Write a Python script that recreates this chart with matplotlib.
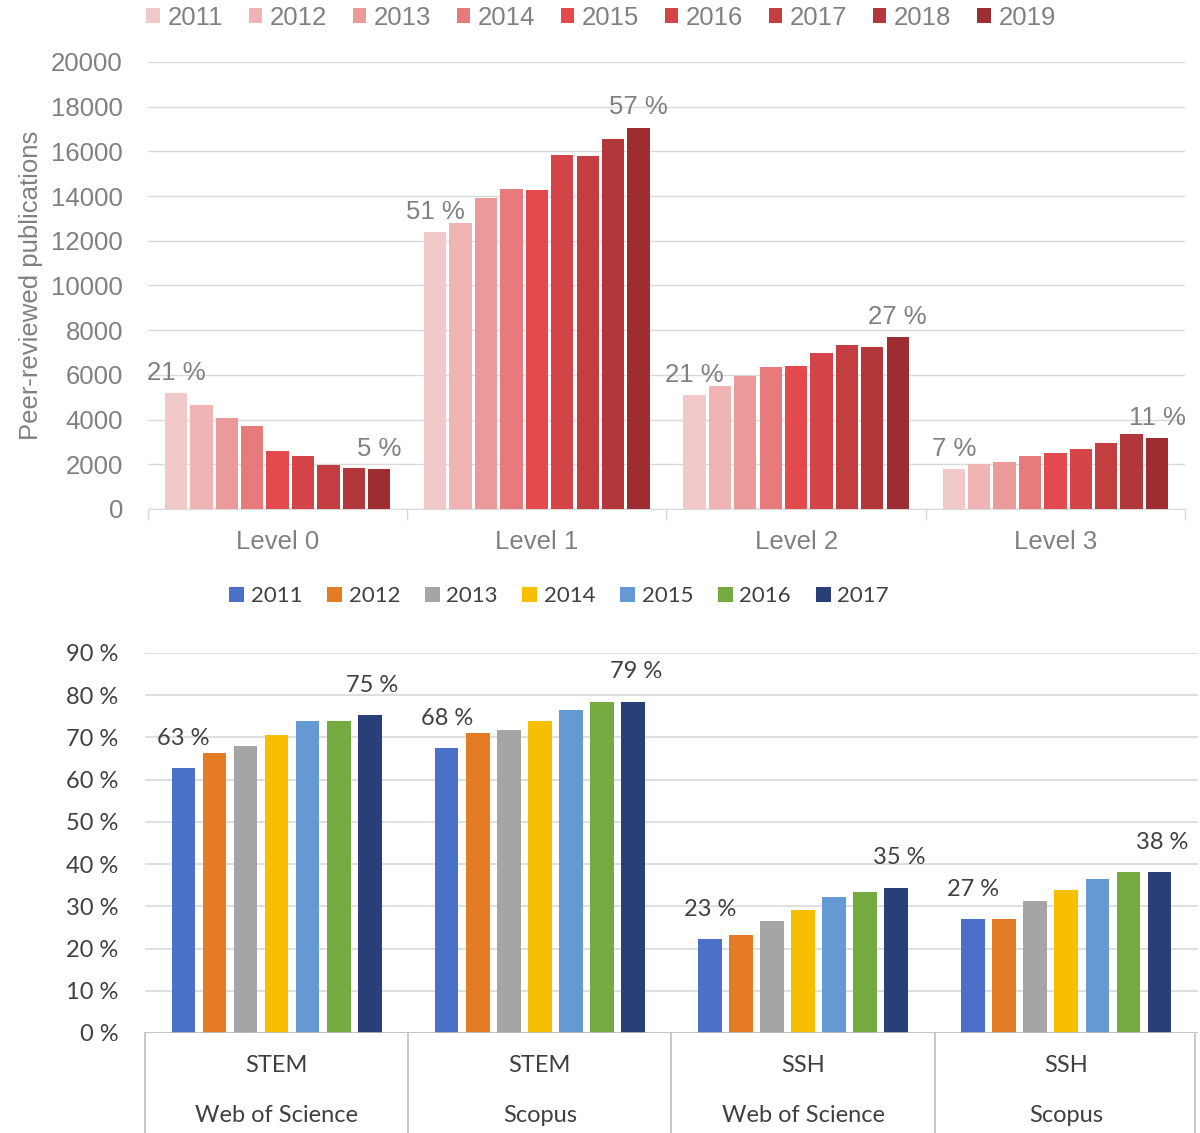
import matplotlib
matplotlib.use("Agg")
import matplotlib.pyplot as plt
from matplotlib.patches import Patch
import numpy as np

# ---------------- data: top chart ----------------
levels = ["Level 0", "Level 1", "Level 2", "Level 3"]
years_top = ["2011", "2012", "2013", "2014", "2015", "2016", "2017", "2018", "2019"]
level0 = [5170, 4660, 4060, 3700, 2610, 2380, 1980, 1840, 1770]
level1 = [12370, 12810, 13920, 14320, 14290, 15850, 15810, 16550, 17060]
level2 = [5090, 5490, 5940, 6340, 6400, 7000, 7330, 7240, 7690]
level3 = [1770, 1990, 2090, 2360, 2500, 2680, 2930, 3340, 3160]
top_first_labels = ["21 %", "51 %", "21 %", "7 %"]
top_last_labels = ["5 %", "57 %", "27 %", "11 %"]
top_yticks = [0, 2000, 4000, 6000, 8000, 10000, 12000, 14000, 16000, 18000, 20000]

# ---------------- data: bottom chart ----------------
groups_field = ["STEM", "STEM", "SSH", "SSH"]
groups_db = ["Web of Science", "Scopus", "Web of Science", "Scopus"]
years_bot = ["2011", "2012", "2013", "2014", "2015", "2016", "2017"]
stem_wos = [62.7, 66.3, 68.0, 70.6, 73.8, 73.8, 75.3]
stem_scopus = [67.4, 71.1, 71.7, 73.8, 76.4, 78.5, 78.5]
ssh_wos = [22.2, 23.3, 26.5, 29.1, 32.3, 33.4, 34.4]
ssh_scopus = [27.0, 27.0, 31.2, 33.9, 36.5, 38.1, 38.1]
bot_first_labels = ["63 %", "68 %", "23 %", "27 %"]
bot_last_labels = ["75 %", "79 %", "35 %", "38 %"]
bot_yticks = [0, 10, 20, 30, 40, 50, 60, 70, 80, 90]

top_colors = ["#F2C9C9", "#EFB4B3", "#EB9A9A", "#E77A7A", "#E24A4D",
              "#D4454A", "#C33E41", "#B2373A", "#9E2D31"]
bot_colors = ["#4A70C8", "#E47B25", "#A5A5A5", "#F8BE00", "#6599D4", "#74AA3F", "#283F78"]

TOPFONT = "Liberation Sans"
BOTFONT = "Lato"
grey = "#808080"
dark = "#404040"
gridc = "#D9D9D9"
TFS = 18.5
BFS = 17

fig = plt.figure(figsize=(12, 11.33), dpi=100)

# ================= top chart =================
ax1 = fig.add_axes([0.1233, 0.5508, 0.8642, 0.3945])
top_vals = np.array([level0, level1, level2, level3])  # (levels, years)
n = len(years_top)
step = 0.098
width = 0.086
x = np.arange(len(levels))
for j in range(n):
    ax1.bar(x + (j - (n - 1) / 2) * step, top_vals[:, j], width=width,
            color=top_colors[j], label=years_top[j], zorder=3)
for i in range(len(levels)):
    xf = i + (0 - (n - 1) / 2) * step
    xl = i + (n - 1 - (n - 1) / 2) * step
    ax1.annotate(top_first_labels[i], (xf, top_vals[i, 0]), xytext=(0, 6),
                 textcoords="offset points", ha="center", va="bottom",
                 fontsize=TFS, color=grey, family=TOPFONT)
    ax1.annotate(top_last_labels[i], (xl, top_vals[i, -1]), xytext=(0, 6),
                 textcoords="offset points", ha="center", va="bottom",
                 fontsize=TFS, color=grey, family=TOPFONT)
ax1.set_xlim(-0.5, 3.5)
ax1.set_ylim(0, 20000)
ax1.set_yticks(top_yticks)
ax1.set_yticklabels([str(v) for v in top_yticks], fontsize=TFS, color=grey, family=TOPFONT)
ax1.set_xticks(x)
ax1.set_xticklabels(levels, fontsize=TFS, color=grey, family=TOPFONT)
ax1.set_xticks([-0.5, 0.5, 1.5, 2.5, 3.5], minor=True)
ax1.tick_params(axis="x", which="major", length=0, pad=15)
ax1.tick_params(axis="x", which="minor", length=8, color=gridc, width=1)
ax1.tick_params(axis="y", length=0, pad=18)
ax1.grid(axis="y", color=gridc, linewidth=1, zorder=0)
for s in ["top", "right", "left"]:
    ax1.spines[s].set_visible(False)
ax1.spines["bottom"].set_color(gridc)
ax1.set_ylabel("Peer-reviewed publications", fontsize=TFS, color=grey, family=TOPFONT, labelpad=6)

h1 = [Patch(facecolor=c) for c in top_colors]
fig.legend(h1, years_top, loc="center", bbox_to_anchor=(601 / 1200, 1 - 18 / 1133), ncol=9,
           frameon=False, handlelength=0.52, handleheight=0.52, handletextpad=0.3,
           columnspacing=1.0, prop={"family": TOPFONT, "size": TFS}, labelcolor=grey,
           borderpad=0, borderaxespad=0)

# ================= bottom chart =================
ax2 = fig.add_axes([0.1208, 0.0883, 0.8775, 0.3354])
bot_vals = np.array([stem_wos, stem_scopus, ssh_wos, ssh_scopus])
m = len(years_bot)
step2 = 0.118
width2 = 0.09
for j in range(m):
    ax2.bar(x + (j - (m - 1) / 2) * step2, bot_vals[:, j], width=width2,
            color=bot_colors[j], label=years_bot[j], zorder=3)
for i in range(len(groups_db)):
    xf = i + (0 - (m - 1) / 2) * step2
    xl = i + (m - 1 - (m - 1) / 2) * step2
    ax2.annotate(bot_first_labels[i], (xf, bot_vals[i, 0]), xytext=(0, 14),
                 textcoords="offset points", ha="center", va="bottom",
                 fontsize=BFS, color=dark, family=BOTFONT)
    ax2.annotate(bot_last_labels[i], (xl, bot_vals[i, -1]), xytext=(2, 14),
                 textcoords="offset points", ha="center", va="bottom",
                 fontsize=BFS, color=dark, family=BOTFONT)
ax2.set_xlim(-0.5, 3.5)
ax2.set_ylim(0, 90)
ax2.set_yticks(bot_yticks)
ax2.set_yticklabels([f"{v} %" for v in bot_yticks], fontsize=BFS, color=dark, family=BOTFONT)
ax2.tick_params(axis="y", length=0, pad=19)
ax2.set_xticks([])
ax2.grid(axis="y", color=gridc, linewidth=1.2, zorder=0)
for s in ["top", "right", "left", "bottom"]:
    ax2.spines[s].set_visible(False)
ax2.axhline(0, color="#BFBFBF", linewidth=1.2, zorder=4)
for sx in [-0.5, 0.5, 1.5, 2.5, 3.49]:
    ax2.plot([sx, sx], [0, -30], color="#BFBFBF", linewidth=1.2, clip_on=False)
for i in range(len(groups_db)):
    ax2.text(i, -7.6, groups_field[i], ha="center", va="center", fontsize=BFS,
             color=dark, family=BOTFONT, clip_on=False)
    ax2.text(i, -19.6, groups_db[i], ha="center", va="center", fontsize=BFS,
             color=dark, family=BOTFONT, clip_on=False)

h2 = [Patch(facecolor=c) for c in bot_colors]
fig.legend(h2, years_bot, loc="center", bbox_to_anchor=(559 / 1200, 1 - 596 / 1133), ncol=7,
           frameon=False, handlelength=0.68, handleheight=0.68, handletextpad=0.3,
           columnspacing=1.1, prop={"family": BOTFONT, "size": 16}, labelcolor=dark,
           borderpad=0, borderaxespad=0)

fig.savefig("out.png", dpi=100)
